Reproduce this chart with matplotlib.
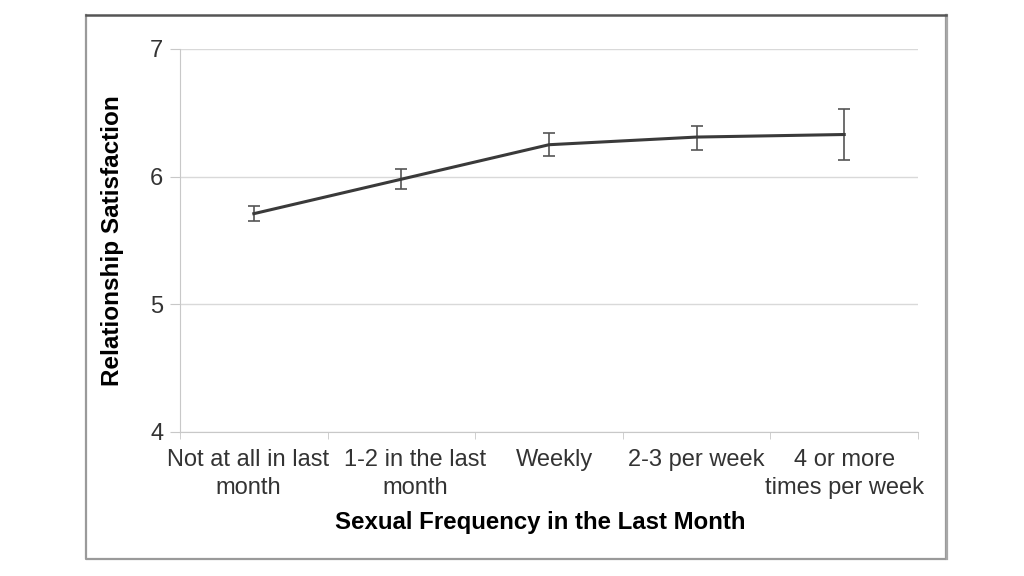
import matplotlib.pyplot as plt
import matplotlib.transforms as mtransforms
from matplotlib.lines import Line2D

categories = ["Not at all in last\nmonth", "1-2 in the last\nmonth", "Weekly",
              "2-3 per week", "4 or more\ntimes per week"]
satisfaction = [5.71, 5.98, 6.25, 6.31, 6.33]
err_low = [0.06, 0.08, 0.09, 0.10, 0.20]
err_high = [0.06, 0.08, 0.09, 0.09, 0.20]

plt.rcParams['font.family'] = ['Liberation Sans', 'DejaVu Sans']

fig = plt.figure(figsize=(10.24, 5.76), dpi=100)
ax = fig.add_axes([0.1758, 0.25, 0.7207, 0.665])

x = list(range(len(categories)))
ax.errorbar(x, satisfaction, yerr=[err_low, err_high], color='#3a3a3a', linewidth=2.2,
            ecolor='#555555', elinewidth=1.2, capsize=4, capthick=1.2, zorder=3)

ax.set_xlim(-0.5, len(categories) - 0.5)
ax.set_ylim(4, 7)
ax.set_yticks([4, 5, 6, 7])
ax.set_xticks(x)
ax.set_xticklabels(categories, fontsize=17, color='#333333', linespacing=1.35)
ax.set_xticks([i - 0.5 for i in range(len(categories) + 1)], minor=True)
ax.tick_params(axis='x', which='major', length=0, pad=12)
ax.tick_params(axis='x', which='minor', length=5, color='#c8c8c8', direction='out')
ax.tick_params(axis='y', length=7, color='#c8c8c8', labelsize=17, labelcolor='#333333', pad=5)

# the wrapped labels sit a little off their category centres, as in the original
shifts = [-6, 14, 5, 0, 0]
for lab, dx in zip(ax.get_xticklabels(), shifts):
    lab.set_transform(lab.get_transform() + mtransforms.ScaledTranslation(dx / 100, 0, fig.dpi_scale_trans))

ax.yaxis.grid(True, color='#d9d9d9', linewidth=1)
ax.set_axisbelow(True)
for side in ['top', 'right']:
    ax.spines[side].set_visible(False)
for side in ['left', 'bottom']:
    ax.spines[side].set_color('#c8c8c8')

ax.set_xlabel("Sexual Frequency in the Last Month", fontsize=17.3, fontweight='bold')
ax.xaxis.label.set_va('center')
ax.xaxis.set_label_coords(0.488, (432 - 522) / 383, transform=ax.transAxes)
ax.set_ylabel("Relationship Satisfaction", fontsize=17.5, fontweight='bold', labelpad=19)

# frame round the whole chart
x0, x1, y0, y1 = 0.084, 0.924, 0.030, 0.974
fig.add_artist(Line2D([x0, x0, x1, x1], [y1, y0, y0, y1], transform=fig.transFigure,
                      color='#9a9a9a', linewidth=1.6))
fig.add_artist(Line2D([x1 + 0.001, x1 + 0.001], [y0, y1], transform=fig.transFigure,
                      color='#a8a8a8', linewidth=1.6))
fig.add_artist(Line2D([x0, x1], [y1, y1], transform=fig.transFigure,
                      color='#555555', linewidth=1.8))

fig.savefig("out.png", dpi=100)
